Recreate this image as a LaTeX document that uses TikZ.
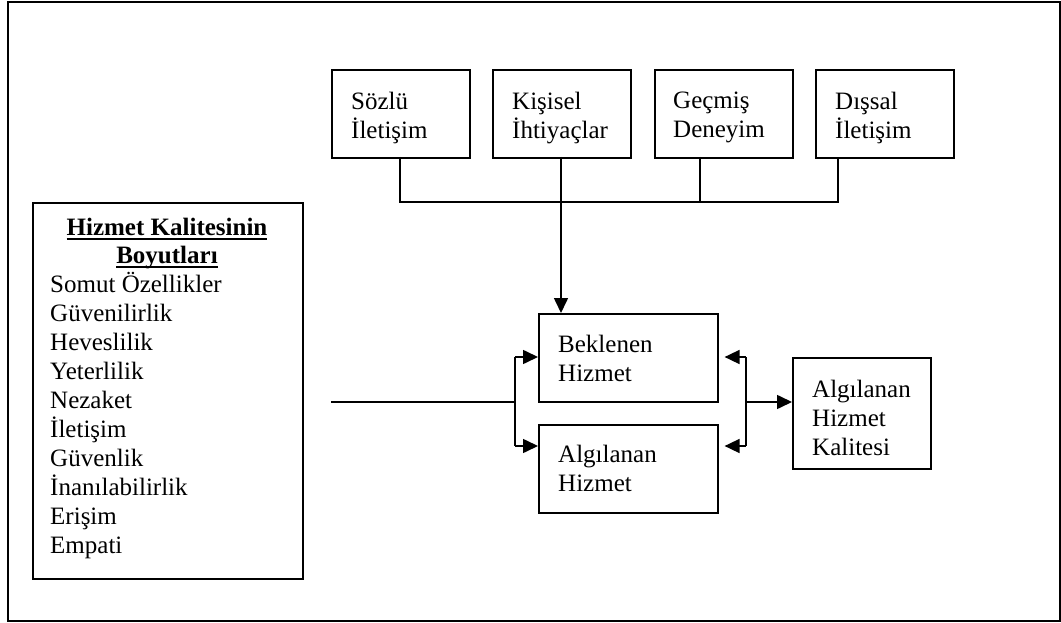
\documentclass[tikz,border=0pt]{standalone}
\usepackage{fontspec}
\setmainfont{Liberation Serif}
\usetikzlibrary{arrows.meta,calc}

% underline drawn as a thick rule below the baseline
\newcommand{\ulbar}[1]{\setbox0\hbox{#1}\rlap{\rule[-5pt]{\wd0}{2pt}}\box0}

\tikzset{
  box/.style={draw, line width=1.6pt, inner sep=0pt, anchor=north west},
  txt/.style={inner sep=0pt, align=left, font=\fontsize{25}{29}\selectfont},
  ttl/.style={inner sep=0pt, font=\fontsize{25}{28}\selectfont\bfseries},
  wire/.style={line width=1.6pt},
  arr/.style={line width=1.6pt, -{Triangle[length=15pt,width=14pt]}}
}

\begin{document}
\begin{tikzpicture}[x=1pt,y=-1pt]
\useasboundingbox (0,0) rectangle (1061,623);

% outer frame
\draw[line width=1.8pt] (8,2) rectangle (1060,621);

% influence boxes along the top
\node[box, minimum width=138pt, minimum height=88pt] (soz) at (331,69) {};
\node[box, minimum width=138pt, minimum height=88pt] (kis) at (492,69) {};
\node[box, minimum width=138pt, minimum height=88pt] (gec) at (654,69) {};
\node[box, minimum width=138pt, minimum height=88pt] (dis) at (815,69) {};
\node[txt, anchor=north west] (tsoz) at (351,92) {Sözlü\\İletişim};
\node[txt, anchor=north west] (tkis) at (512,92) {Kişisel\\İhtiyaçlar};
\node[txt, anchor=north west] (tgec) at (673,92) {Geçmiş\\Deneyim};
\node[txt, anchor=north west] (tdis) at (835,92) {Dışsal\\İletişim};

% dimensions box
\node[box, minimum width=270pt, minimum height=376pt] (dim) at (32,202) {};
\node[ttl, anchor=base] (h1) at (167,235) {\ulbar{Hizmet Kalitesinin}};
\node[ttl, anchor=base] (h2) at (167,263) {\ulbar{Boyutları}};
\foreach \w [count=\i] in {Somut Özellikler,Güvenilirlik,Heveslilik,Yeterlilik,Nezaket,İletişim,Güvenlik,İnanılabilirlik,Erişim,Empati}
  \node[txt, anchor=base west] (d\i) at (50,{292+29*(\i-1)}) {\w};

% expected / perceived service
\node[box, minimum width=179pt, minimum height=88pt] (bek) at (538,313) {};
\node[box, minimum width=179pt, minimum height=88pt] (alg) at (538,424) {};
\node[txt, anchor=north west] (tbek) at (558,335) {Beklenen\\Hizmet};
\node[txt, anchor=north west] (talg) at (558,445) {Algılanan\\Hizmet};

% perceived service quality
\node[box, minimum width=138pt, minimum height=111pt] (kal) at (792,357) {};
\node[txt, anchor=north west] (tkal) at (812,380) {Algılanan\\Hizmet\\Kalitesi};

% collecting line under the top boxes
\coordinate (bus) at (400,202);
\coordinate (hub) at (561,202);
\draw[wire] (400,157) -- (bus) -- (838,202) -- (838,157);
\draw[wire] (561,157) -- (hub);
\draw[wire] (700,157) -- (700,202);
\draw[arr] (hub) -- (hub |- bek.north);

% left fork
\coordinate (fl) at (515,402);
\coordinate (fl1) at (515,357);
\coordinate (fl2) at (515,446);
\draw[wire] (331,402) -- (fl);
\draw[wire] (fl1) -- (fl2);
\draw[arr] (fl1) -- (fl1 -| bek.west);
\draw[arr] (fl2) -- (fl2 -| alg.west);

% right fork
\coordinate (fr) at (746,402);
\coordinate (fr1) at (746,357);
\coordinate (fr2) at (746,446);
\draw[wire] (fr1) -- (fr2);
\draw[arr, shorten >=6pt] (fr1) -- (fr1 -| bek.east);
\draw[arr, shorten >=6pt] (fr2) -- (fr2 -| alg.east);
\draw[arr] (fr) -- (fr -| kal.west);
\end{tikzpicture}
\end{document}
